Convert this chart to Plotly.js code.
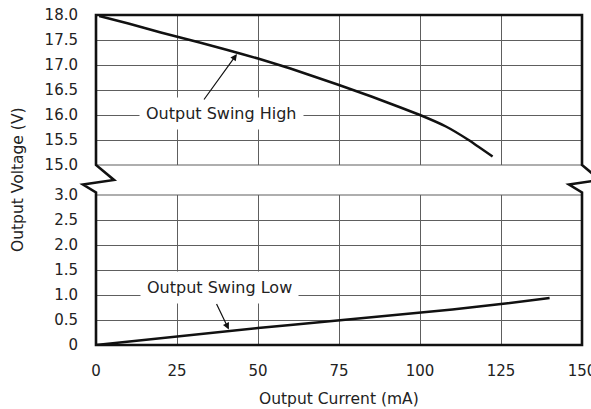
<!DOCTYPE html>
<html>
<head>
<meta charset="utf-8">
<script src="https://cdn.plot.ly/plotly-3.0.1.min.js"></script>
<style>html,body{margin:0;padding:0;background:#fff;}#chart{width:591px;height:409px;}</style>
</head>
<body>
<div id="chart"></div>
<script>
// ---- data ----
const highCurrent = [1, 10, 20, 32, 40, 50, 60, 75, 85, 94, 100, 108, 115, 122.4];
const highVoltage = [17.98, 17.83, 17.65, 17.45, 17.31, 17.13, 16.93, 16.6, 16.37, 16.15, 16.0, 15.77, 15.5, 15.17];
const lowCurrent = [0, 10, 25, 41, 50, 60, 75, 90, 100, 110, 125, 135, 140];
const lowVoltage = [0, 0.07, 0.18, 0.29, 0.34, 0.40, 0.49, 0.58, 0.65, 0.71, 0.82, 0.89, 0.94];
const xTicks = [0, 25, 50, 75, 100, 125, 150];
const lowTicks = [0, 0.5, 1.0, 1.5, 2.0, 2.5, 3.0];
const lowTickText = ['0', '0.5', '1.0', '1.5', '2.0', '2.5', '3.0'];
const highTicks = [15.0, 15.5, 16.0, 16.5, 17.0, 17.5, 18.0];
const highTickText = ['15.0', '15.5', '16.0', '16.5', '17.0', '17.5', '18.0'];
const labels = {high: 'Output Swing High', low: 'Output Swing Low'};
const xTitle = 'Output Current (mA)';
const yTitle = 'Output Voltage (V)';

// ---- layout geometry ----
const W = 591, H = 409;
const L = 96, R = 582, T = 15, B = 345;
const pw = R - L, ph = B - T;
const gapTop = 165, gapBot = 195;
const px = x => (x - L) / pw;
const py = y => (B - y) / ph;

const FONT = 'DejaVu Sans, Liberation Sans, Arial, sans-serif';
const TXT = '#222';
const GRID = '#5e5e5e';

function zig(xb) {
  return `L ${px(xb)},${py(gapTop)} L ${px(xb + 18)},${py(180)} L ${px(xb - 13)},${py(184.5)} L ${px(xb)},${py(192.5)} `;
}
const framePath =
  `M ${px(L)},${py(B)} L ${px(L)},${py(gapBot)} ` +
  `L ${px(L)},${py(192.5)} L ${px(L - 13)},${py(184.5)} L ${px(L + 18)},${py(180)} L ${px(L)},${py(gapTop)} ` +
  `L ${px(L)},${py(T)} L ${px(R)},${py(T)} ` +
  zig(R) +
  `L ${px(R)},${py(B)} Z`;

const traces = [
  {x: highCurrent, y: highVoltage, xaxis: 'x2', yaxis: 'y2', mode: 'lines',
   line: {color: '#111', width: 2.5, shape: 'spline', smoothing: 0.3}, hoverinfo: 'skip'},
  {x: lowCurrent, y: lowVoltage, xaxis: 'x', yaxis: 'y', mode: 'lines',
   line: {color: '#111', width: 2.5, shape: 'linear'}, hoverinfo: 'skip'}
];

const axisCommon = {
  showgrid: true, gridcolor: GRID, gridwidth: 1, zeroline: false,
  showline: false, ticks: 'outside', tickcolor: 'rgba(0,0,0,0)',
  tickfont: {family: FONT, size: 15, color: TXT}, fixedrange: true,
  ticklabeloverflow: 'allow'
};

const layout = {
  width: W, height: H,
  margin: {l: L, r: W - R, t: T, b: H - B, pad: 0},
  paper_bgcolor: '#fff', plot_bgcolor: '#fff',
  showlegend: false,
  xaxis: Object.assign({}, axisCommon, {
    range: [0, 150], tickvals: xTicks, ticktext: xTicks.map(String),
    anchor: 'y', ticklen: 12
  }),
  xaxis2: Object.assign({}, axisCommon, {
    range: [0, 150], tickvals: xTicks, showticklabels: false, ticks: '',
    anchor: 'y2', matches: 'x'
  }),
  yaxis: Object.assign({}, axisCommon, {
    domain: [0, py(gapBot)], range: [0, 3], tickvals: lowTicks, ticktext: lowTickText,
    ticklen: 14
  }),
  yaxis2: Object.assign({}, axisCommon, {
    domain: [py(gapTop), 1], range: [15, 18], tickvals: highTicks, ticktext: highTickText,
    ticklen: 14
  }),
  shapes: [
    {type: 'line', xref: 'paper', yref: 'paper', x0: 0, x1: 1, y0: py(gapTop), y1: py(gapTop), layer: 'above', line: {color: GRID, width: 1.2}},
    {type: 'line', xref: 'paper', yref: 'paper', x0: 0, x1: 1, y0: py(gapBot), y1: py(gapBot), layer: 'above', line: {color: GRID, width: 1.2}},
    {type: 'path', xref: 'paper', yref: 'paper', path: framePath, layer: 'above',
     line: {color: '#111', width: 2.6}, fillcolor: 'rgba(0,0,0,0)'}
  ],
  annotations: [
    {xref: 'x2', yref: 'y2', x: 38.8, y: 16.03, text: labels.high, showarrow: false,
     font: {family: FONT, size: 16, color: TXT}, bgcolor: '#fff', borderpad: 6, xanchor: 'center', yanchor: 'middle'},
    {xref: 'x2', yref: 'y2', x: 43.5, y: 17.22, text: '', showarrow: true, ax: -34, ay: 47,
     arrowhead: 2, arrowsize: 1.1, arrowwidth: 1.2, arrowcolor: '#111'},
    {xref: 'x', yref: 'y', x: 38.2, y: 1.15, text: labels.low, showarrow: false,
     font: {family: FONT, size: 16, color: TXT}, bgcolor: '#fff', borderpad: 6, xanchor: 'center', yanchor: 'middle'},
    {xref: 'x', yref: 'y', x: 41, y: 0.31, text: '', showarrow: true, ax: -13, ay: -27,
     arrowhead: 2, arrowsize: 1.1, arrowwidth: 1.2, arrowcolor: '#111'},
    {xref: 'paper', yref: 'paper', x: px(18), y: py(180), text: yTitle, textangle: -90, showarrow: false,
     font: {family: FONT, size: 15.5, color: TXT}, xanchor: 'center', yanchor: 'middle'},
    {xref: 'paper', yref: 'paper', x: px(339), y: py(399), text: xTitle, showarrow: false,
     font: {family: FONT, size: 15.5, color: TXT}, xanchor: 'center', yanchor: 'middle'}
  ]
};

Plotly.newPlot('chart', traces, layout, {staticPlot: true, displayModeBar: false});
</script>
</body>
</html>
